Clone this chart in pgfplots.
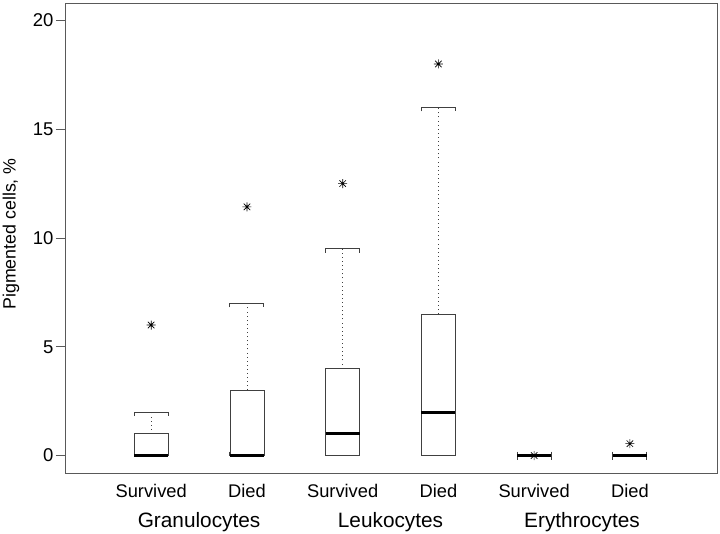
\documentclass[border=0pt]{standalone}
\usepackage{fontspec}
\setmainfont{Liberation Sans}
\usepackage{pgfplots}
\pgfplotsset{compat=1.18}
\usepgfplotslibrary{statistics}
\pgfdeclareplotmark{rast}{%
 \pgfpathmoveto{\pgfqpoint{-\pgfplotmarksize}{0pt}}\pgfpathlineto{\pgfqpoint{\pgfplotmarksize}{0pt}}%
 \pgfpathmoveto{\pgfqpoint{0pt}{-\pgfplotmarksize}}\pgfpathlineto{\pgfqpoint{0pt}{\pgfplotmarksize}}%
 \pgfpathmoveto{\pgfqpoint{-0.72\pgfplotmarksize}{-0.72\pgfplotmarksize}}\pgfpathlineto{\pgfqpoint{0.72\pgfplotmarksize}{0.72\pgfplotmarksize}}%
 \pgfpathmoveto{\pgfqpoint{-0.72\pgfplotmarksize}{0.72\pgfplotmarksize}}\pgfpathlineto{\pgfqpoint{0.72\pgfplotmarksize}{-0.72\pgfplotmarksize}}%
 \pgfusepathqstroke}
\tikzset{rline/.style={draw=black!75, line width=0.9pt, solid}}
\pgfplotsset{
 boxplot/draw direction=y,
 boxplot/draw/lower whisker/.code={%
  \draw[rline] ([yshift=4pt]boxplot box cs:\pgfplotsboxplotvalue{lower whisker},0) -- (boxplot box cs:\pgfplotsboxplotvalue{lower whisker},0);
  \draw[rline] ([yshift=4pt]boxplot box cs:\pgfplotsboxplotvalue{lower whisker},1) -- (boxplot box cs:\pgfplotsboxplotvalue{lower whisker},1);
 },
 boxplot/draw/upper whisker/.code={%
  \draw[draw=black!75, line width=0.8pt, dash pattern=on 0.9pt off 3.2pt] (boxplot box cs:\pgfplotsboxplotvalue{upper quartile},0.5) -- (boxplot box cs:\pgfplotsboxplotvalue{upper whisker},0.5);
  \draw[rline] ([yshift=-4pt]boxplot box cs:\pgfplotsboxplotvalue{upper whisker},0) -- (boxplot box cs:\pgfplotsboxplotvalue{upper whisker},0) -- (boxplot box cs:\pgfplotsboxplotvalue{upper whisker},1) -- ([yshift=-4pt]boxplot box cs:\pgfplotsboxplotvalue{upper whisker},1);
 },
 boxplot/every box/.style={draw=black!75, line width=0.8pt, fill=white},
 boxplot/every median/.style={draw=black, line width=3pt},
 boxplot/box extend=0.355,
}
\begin{document}
\begin{tikzpicture}
\begin{axis}[
  width=652pt, height=470pt, scale only axis,
  xmin=0.1, xmax=6.91, ymin=-0.8, ymax=20.8,
  axis line style={draw=black!65, line width=0.8pt},
  ytick={0,5,10,15,20},
  ytick pos=left,
  tick align=outside,
  major tick length=9pt,
  ytick style={draw=black!65, line width=0.8pt},
  xtick={1,2,3,4,5,6},
  xticklabels={Survived,Died,Survived,Died,Survived,Died},
  x tick style={draw=none},
  xtick pos=bottom,
  /pgf/number format/assume math mode=true,
  yticklabel style={font=\fontsize{18.5}{21}\selectfont, xshift=1pt},
  xticklabel style={font=\fontsize{18.3}{21}\selectfont, yshift=1pt},
  ylabel={Pigmented cells, \%},
  every axis y label/.style={at={(rel axis cs:0,0.5)}, xshift=-54pt, yshift=4pt, rotate=90, anchor=center, font=\fontsize{17.8}{20}\selectfont},
  clip=false,
]
\addplot[boxplot prepared={draw position=1, lower whisker=0, lower quartile=0, median=0, upper quartile=1, upper whisker=2}, mark=rast, mark size=4.5pt, mark options={black, line width=0.7pt}] coordinates {(0,6)};
\addplot[boxplot prepared={draw position=2, lower whisker=0, lower quartile=0, median=0, upper quartile=3, upper whisker=7}, mark=rast, mark size=4.5pt, mark options={black, line width=0.7pt}] coordinates {(0,11.43)};
\addplot[boxplot prepared={draw position=3, lower whisker=0, lower quartile=0, median=1, upper quartile=4, upper whisker=9.5}, mark=rast, mark size=4.5pt, mark options={black, line width=0.7pt}] coordinates {(0,12.5)};
\addplot[boxplot prepared={draw position=4, lower whisker=0, lower quartile=0, median=2, upper quartile=6.5, upper whisker=16}, mark=rast, mark size=4.5pt, mark options={black, line width=0.7pt}] coordinates {(0,18)};
\addplot[boxplot prepared={draw position=5, lower whisker=0, lower quartile=0, median=0, upper quartile=0, upper whisker=0}, mark=rast, mark size=4.5pt, mark options={black, line width=0.7pt}] coordinates {(0,0)};
\addplot[boxplot prepared={draw position=6, lower whisker=0, lower quartile=0, median=0, upper quartile=0, upper whisker=0}, mark=rast, mark size=4.5pt, mark options={black, line width=0.7pt}] coordinates {(0,0.55)};
\node[font=\fontsize{20.8}{24}\selectfont] at ([yshift=-49.5pt]axis cs:1.5,-0.8) {Granulocytes};
\node[font=\fontsize{20.8}{24}\selectfont] at ([yshift=-49.5pt]axis cs:3.5,-0.8) {Leukocytes};
\node[font=\fontsize{20.8}{24}\selectfont] at ([yshift=-49.5pt]axis cs:5.5,-0.8) {Erythrocytes};
\end{axis}
\pgfresetboundingbox
\path ([shift={(-65pt,-60pt)}]current axis.south west) rectangle ([shift={(3pt,3pt)}]current axis.north east);
\end{tikzpicture}
\end{document}
